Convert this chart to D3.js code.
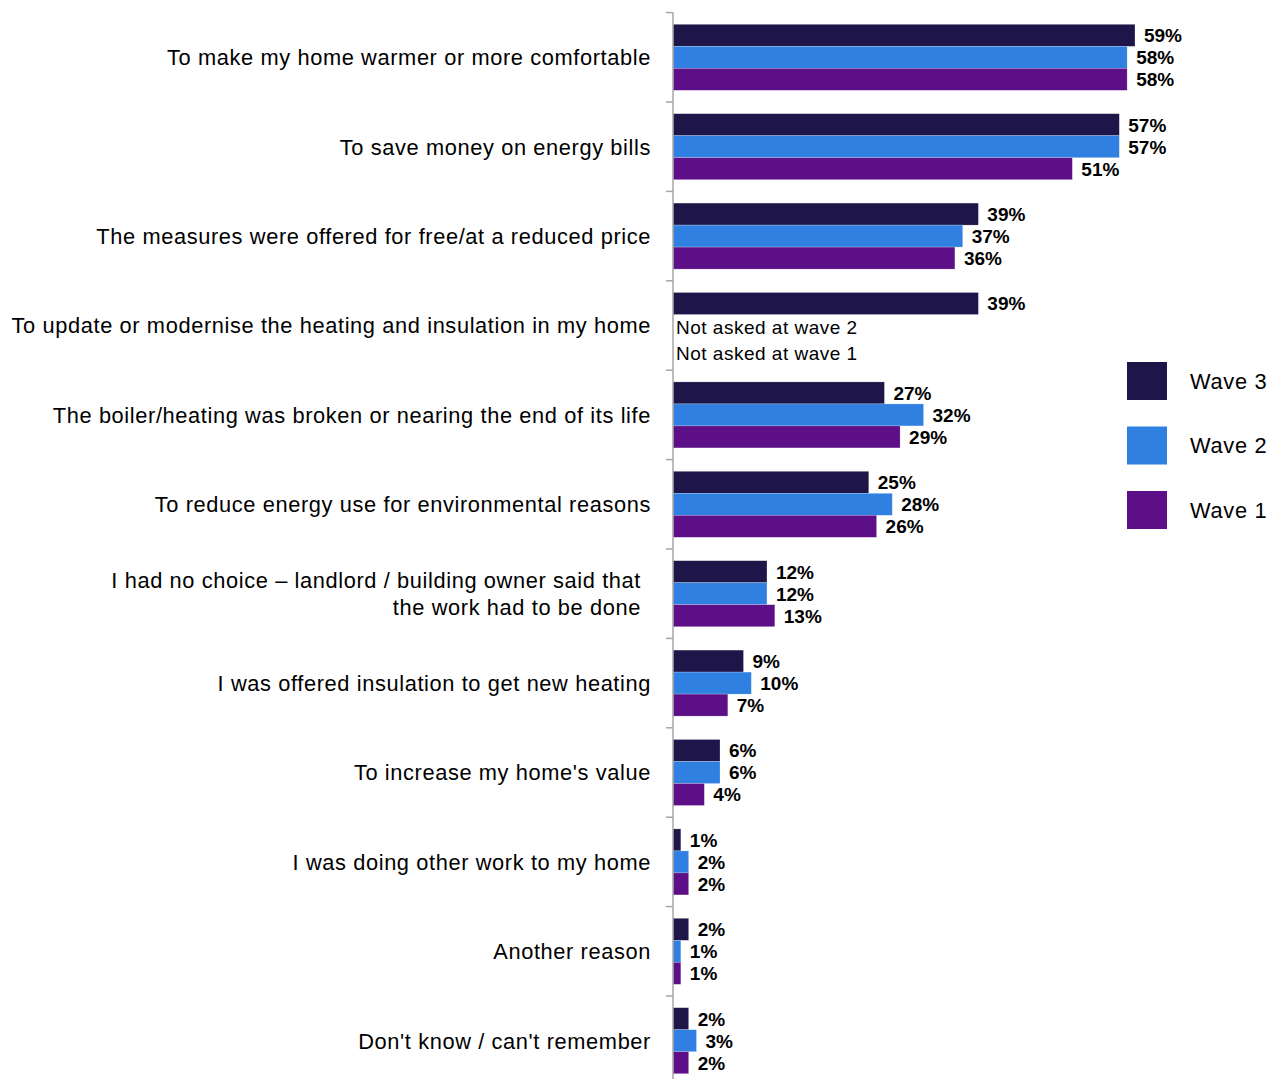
<!DOCTYPE html>
<html>
<head>
<meta charset="utf-8">
<script src="https://cdn.jsdelivr.net/npm/d3@7"></script>
<style>
  html, body { margin: 0; padding: 0; background: #fff; }
  svg { display: block; font-family: "Liberation Sans", Arial, sans-serif; }
</style>
</head>
<body>
<svg id="chart" width="1270" height="1079"></svg>
<script>
// Reasons for installing measures, by survey wave (% of respondents)
const categories = [
  "To make my home warmer or more comfortable",
  "To save money on energy bills",
  "The measures were offered for free/at a reduced price",
  "To update or modernise the heating and insulation in my home",
  "The boiler/heating was broken or nearing the end of its life",
  "To reduce energy use for environmental reasons",
  "I had no choice \u2013 landlord / building owner said that|the work had to be done",
  "I was offered insulation to get new heating",
  "To increase my home's value",
  "I was doing other work to my home",
  "Another reason",
  "Don't know / can't remember"
];
const series = ["Wave 3", "Wave 2", "Wave 1"];
const wave3 = [59, 57, 39, 39, 27, 25, 12, 9, 6, 1, 2, 2];
const wave2 = [58, 57, 37, null, 32, 28, 12, 10, 6, 2, 1, 3];
const wave1 = [58, 51, 36, null, 29, 26, 13, 7, 4, 2, 1, 2];
const colors = ["#1e1548", "#2f80e0", "#5c0f87"];
const notAskedText = { "Wave 2": "Not asked at wave 2", "Wave 1": "Not asked at wave 1" };

const valuesBySeries = [wave3, wave2, wave1];
const rows = categories.map((c, i) => ({
  category: c,
  values: series.map((s, j) => ({ series: s, value: valuesBySeries[j][i], color: colors[j] }))
}));

const svg = d3.select("#chart");
const axisX = 673;

const y = d3.scaleBand().domain(categories).range([12.6, 12.6 + 89.4 * categories.length]).padding(0);
const inner = d3.scaleBand().domain(series).range([11.7, y.bandwidth() - 11.7]).padding(0);
const x = d3.scaleLinear().domain([0, 100]).range([axisX, axisX + 783]);

// Category groups
const groups = svg.append("g").selectAll("g")
  .data(rows).join("g")
  .attr("transform", d => `translate(0,${y(d.category)})`);

groups.selectAll("rect")
  .data(d => d.values.filter(v => v.value != null))
  .join("rect")
  .attr("x", x(0))
  .attr("y", v => inner(v.series))
  .attr("width", v => x(v.value) - x(0))
  .attr("height", inner.bandwidth())
  .attr("fill", v => v.color)
  .attr("stroke", "rgba(255,255,255,0.35)")
  .attr("stroke-width", 0.6);

// Value labels
groups.selectAll("text.val")
  .data(d => d.values.filter(v => v.value != null))
  .join("text")
  .attr("class", "val")
  .attr("x", v => x(v.value) + 9)
  .attr("y", v => inner(v.series) + inner.bandwidth() / 2)
  .attr("dy", "0.36em")
  .attr("font-size", 19)
  .attr("font-weight", "bold")
  .attr("fill", "#000")
  .text(v => v.value + "%");

// Notes for series not asked
const noteShift = { "Wave 2": 2, "Wave 1": 6 };
groups.selectAll("text.na")
  .data(d => d.values.filter(v => v.value == null))
  .join("text")
  .attr("class", "na")
  .attr("x", x(0) + 3)
  .attr("y", v => inner(v.series) + inner.bandwidth() / 2 + noteShift[v.series])
  .attr("dy", "0.36em")
  .attr("font-size", 19)
  .attr("letter-spacing", 0.5)
  .attr("fill", "#000")
  .text(v => notAskedText[v.series]);

// Category labels (a "|" marks a line break)
groups.append("text")
  .attr("text-anchor", "end")
  .attr("font-size", 21.8)
  .attr("letter-spacing", 0.62)
  .attr("fill", "#000")
  .each(function(d) {
    const lines = d.category.split("|");
    const lh = 27;
    const t = d3.select(this);
    lines.forEach((ln, k) => {
      t.append("tspan")
        .attr("x", lines.length > 1 ? 641 : 651)
        .attr("y", y.bandwidth() / 2 + (k - (lines.length - 1) / 2) * lh)
        .attr("dy", "0.36em")
        .text(ln);
    });
  });

// Vertical axis with ticks at the category boundaries
const boundaries = d3.range(categories.length + 1).map(i => y.range()[0] + i * y.step());
const axisG = svg.append("g");
axisG.append("line")
  .attr("x1", axisX).attr("x2", axisX)
  .attr("y1", boundaries[0]).attr("y2", 1079)
  .attr("stroke", "#a6a6a6").attr("stroke-width", 1.5);
axisG.selectAll("line.tick")
  .data(boundaries.filter(b => b < 1079))
  .join("line")
  .attr("class", "tick")
  .attr("x1", axisX - 7).attr("x2", axisX)
  .attr("y1", b => b).attr("y2", b => b)
  .attr("stroke", "#a6a6a6").attr("stroke-width", 1.5);

// Legend
const legend = svg.append("g").attr("transform", "translate(1127,362)");
const lg = legend.selectAll("g").data(series).join("g")
  .attr("transform", (s, i) => `translate(0,${i * 64.5})`);
lg.append("rect")
  .attr("width", 40).attr("height", 38)
  .attr("fill", (s, i) => colors[i]);
lg.append("text")
  .attr("x", 63).attr("y", 19).attr("dy", "0.36em")
  .attr("font-size", 21.8)
  .attr("letter-spacing", 0.7)
  .attr("fill", "#000")
  .text(s => s);
</script>
</body>
</html>
